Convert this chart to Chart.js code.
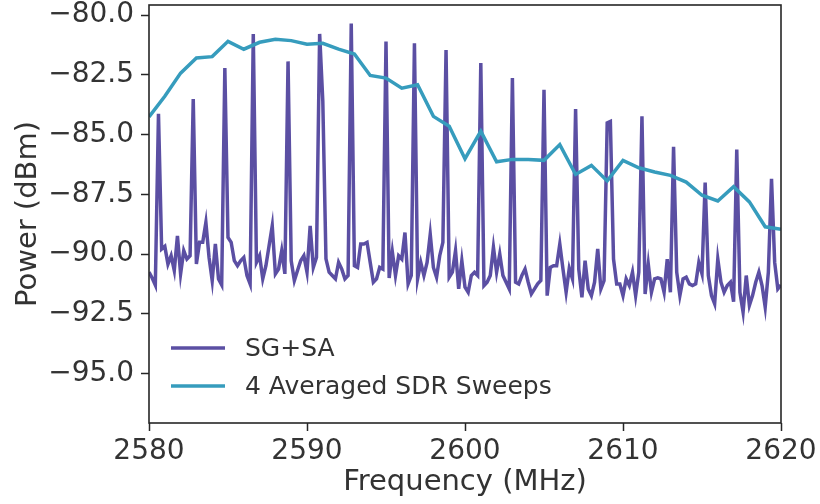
<!DOCTYPE html>
<html>
<head>
<meta charset="utf-8">
<script src="https://cdn.jsdelivr.net/npm/chart.js@4.4.0/dist/chart.umd.min.js"></script>
<style>
  html, body { margin: 0; padding: 0; background: #fff; }
  canvas { display: block; }
</style>
</head>
<body>
<canvas id="chart" width="820" height="504"></canvas>
<script>
// SG+SA trace, 0.2 MHz sample grid
const sgFreqMHz = [
  2580.0, 2580.2, 2580.4, 2580.6, 2580.8, 2581.0, 2581.2, 2581.4, 2581.6, 2581.8,
  2582.0, 2582.2, 2582.4, 2582.6, 2582.8, 2583.0, 2583.2, 2583.4, 2583.6, 2583.8,
  2584.0, 2584.2, 2584.4, 2584.6, 2584.8, 2585.0, 2585.2, 2585.4, 2585.6, 2585.8,
  2586.0, 2586.2, 2586.4, 2586.6, 2586.8, 2587.0, 2587.2, 2587.4, 2587.6, 2587.8,
  2588.0, 2588.2, 2588.4, 2588.6, 2588.8, 2589.0, 2589.2, 2589.4, 2589.6, 2589.8,
  2590.0, 2590.2, 2590.4, 2590.6, 2590.8, 2591.0, 2591.2, 2591.4, 2591.6, 2591.8,
  2592.0, 2592.2, 2592.4, 2592.6, 2592.8, 2593.0, 2593.2, 2593.4, 2593.6, 2593.8,
  2594.0, 2594.2, 2594.4, 2594.6, 2594.8, 2595.0, 2595.2, 2595.4, 2595.6, 2595.8,
  2596.0, 2596.2, 2596.4, 2596.6, 2596.8, 2597.0, 2597.2, 2597.4, 2597.6, 2597.8,
  2598.0, 2598.2, 2598.4, 2598.6, 2598.8, 2599.0, 2599.2, 2599.4, 2599.6, 2599.8,
  2600.0, 2600.2, 2600.4, 2600.6, 2600.8, 2601.0, 2601.2, 2601.4, 2601.6, 2601.8,
  2602.0, 2602.2, 2602.4, 2602.6, 2602.8, 2603.0, 2603.2, 2603.4, 2603.6, 2603.8,
  2604.0, 2604.2, 2604.4, 2604.6, 2604.8, 2605.0, 2605.2, 2605.4, 2605.6, 2605.8,
  2606.0, 2606.2, 2606.4, 2606.6, 2606.8, 2607.0, 2607.2, 2607.4, 2607.6, 2607.8,
  2608.0, 2608.2, 2608.4, 2608.6, 2608.8, 2609.0, 2609.2, 2609.4, 2609.6, 2609.8,
  2610.0, 2610.2, 2610.4, 2610.6, 2610.8, 2611.0, 2611.2, 2611.4, 2611.6, 2611.8,
  2612.0, 2612.2, 2612.4, 2612.6, 2612.8, 2613.0, 2613.2, 2613.4, 2613.6, 2613.8,
  2614.0, 2614.2, 2614.4, 2614.6, 2614.8, 2615.0, 2615.2, 2615.4, 2615.6, 2615.8,
  2616.0, 2616.2, 2616.4, 2616.6, 2616.8, 2617.0, 2617.2, 2617.4, 2617.6, 2617.8,
  2618.0, 2618.2, 2618.4, 2618.6, 2618.8, 2619.0, 2619.2, 2619.4, 2619.6, 2619.8,
  2620.0
];
const sgPowerDbm = [
  -90.76, -91.00, -91.30, -84.13, -89.79, -89.68, -90.42, -90.07, -90.69, -89.24,
  -90.83, -89.86, -90.21, -90.07, -83.51, -90.42, -89.51, -89.51, -88.68, -90.14,
  -91.11, -89.58, -91.04, -91.29, -82.22, -89.31, -89.51, -90.28, -90.49, -90.28,
  -90.14, -90.90, -91.25, -80.79, -90.35, -90.07, -91.04, -90.49, -89.65, -88.82,
  -90.83, -90.63, -89.86, -90.83, -81.94, -90.28, -91.11, -90.69, -90.28, -90.07,
  -90.76, -88.82, -90.56, -90.14, -80.79, -83.60, -90.20, -90.76, -90.90, -91.04,
  -90.35, -90.63, -91.04, -90.90, -80.35, -90.49, -90.56, -89.58, -89.58, -89.51,
  -90.35, -91.18, -91.04, -90.56, -90.63, -81.11, -91.00, -89.90, -90.90, -90.07,
  -90.21, -89.10, -91.25, -90.90, -81.18, -91.04, -90.35, -90.90, -90.35, -89.17,
  -90.56, -90.97, -90.07, -89.51, -81.46, -90.97, -90.76, -89.86, -91.46, -90.28,
  -91.39, -91.60, -90.90, -90.76, -90.90, -82.01, -91.32, -91.18, -90.90, -89.72,
  -90.76, -90.00, -90.90, -91.18, -91.46, -82.64, -91.18, -91.25, -90.90, -90.63,
  -91.18, -91.67, -91.46, -91.25, -91.11, -83.13, -91.74, -90.56, -90.49, -90.49,
  -89.58, -90.63, -91.60, -90.60, -91.04, -83.93, -90.63, -91.81, -90.28, -91.46,
  -91.74, -91.18, -89.79, -91.46, -91.11, -84.51, -84.45, -90.21, -91.25, -91.25,
  -91.74, -91.04, -91.32, -90.76, -91.74, -90.76, -84.24, -91.67, -90.42, -91.60,
  -91.04, -91.00, -91.04, -91.60, -90.21, -91.60, -85.51, -90.76, -91.74, -91.04,
  -90.97, -91.25, -91.32, -91.25, -90.35, -90.83, -87.01, -90.90, -91.74, -92.08,
  -90.21, -91.18, -91.60, -91.32, -91.18, -92.00, -85.63, -91.60, -92.43, -90.90,
  -92.15, -91.74, -91.18, -90.76, -91.32, -92.22, -90.76, -86.85, -90.35, -91.46,
  -91.30
];

// 4 averaged SDR sweeps, 1 MHz grid
const sdrFreqMHz = [
  2580, 2581, 2582, 2583, 2584, 2585, 2586, 2587, 2588, 2589,
  2590, 2591, 2592, 2593, 2594, 2595, 2596, 2597, 2598, 2599,
  2600, 2601, 2602, 2603, 2604, 2605, 2606, 2607, 2608, 2609,
  2610, 2611, 2612, 2613, 2614, 2615, 2616, 2617, 2618, 2619,
  2620
];
const sdrPowerDbm = [
  -84.26, -83.40, -82.43, -81.80, -81.74, -81.10, -81.43, -81.14, -81.01, -81.07,
  -81.22, -81.18, -81.43, -81.63, -82.53, -82.64, -83.06, -82.92, -84.24, -84.65,
  -86.01, -84.86, -86.14, -86.04, -86.04, -86.08, -85.42, -86.67, -86.29, -86.94,
  -86.08, -86.39, -86.57, -86.71, -86.99, -87.54, -87.78, -87.18, -87.82, -88.86,
  -88.96
];

const xTicks = [2580, 2590, 2600, 2610, 2620];
const yTicks = [-95.0, -92.5, -90.0, -87.5, -85.0, -82.5, -80.0];

const seriesLabels = ['SG+SA', '4 Averaged SDR Sweeps'];
const seriesColors = ['#5b4fa3', '#369cbd'];

const FONT = 'DejaVu Sans';
const INK = '#262626';
const TEXT = '#333333';

const toPoints = (xs, ys) => xs.map((x, i) => ({ x: x, y: ys[i] }));
const fmtY = v => (v < 0 ? '\u2212' : '') + Math.abs(v).toFixed(1);

// plot frame on all four sides
const framePlugin = {
  id: 'frame',
  afterDatasetsDraw(chart) {
    const { ctx, chartArea: a } = chart;
    ctx.save();
    ctx.strokeStyle = INK;
    ctx.lineWidth = 1.6;
    ctx.strokeRect(a.left, a.top, a.right - a.left, a.bottom - a.top);
    ctx.restore();
  }
};

// matplotlib-like legend inside the lower-left corner
const legendPlugin = {
  id: 'innerLegend',
  afterDatasetsDraw(chart) {
    const { ctx, chartArea: a } = chart;
    ctx.save();
    ctx.font = '25px "' + FONT + '"';
    ctx.textBaseline = 'middle';
    ctx.textAlign = 'left';
    chart.data.datasets.forEach((ds, i) => {
      const y = a.bottom - 75 + i * 38;
      ctx.strokeStyle = ds.borderColor;
      ctx.lineWidth = 3.5;
      ctx.beginPath();
      ctx.moveTo(a.left + 22, y);
      ctx.lineTo(a.left + 76, y);
      ctx.stroke();
      ctx.fillStyle = TEXT;
      ctx.fillText(ds.label, a.left + 96, y + 1);
    });
    ctx.restore();
  }
};

new Chart(document.getElementById('chart'), {
  type: 'line',
  data: {
    datasets: [
      {
        label: seriesLabels[0],
        data: toPoints(sgFreqMHz, sgPowerDbm),
        borderColor: seriesColors[0],
        borderWidth: 3.5,
        pointRadius: 0,
        tension: 0,
        order: 1
      },
      {
        label: seriesLabels[1],
        data: toPoints(sdrFreqMHz, sdrPowerDbm),
        borderColor: seriesColors[1],
        borderWidth: 3.5,
        pointRadius: 0,
        tension: 0,
        order: 0
      }
    ]
  },
  options: {
    responsive: false,
    animation: false,
    layout: { padding: { left: 0, right: 39, top: 5, bottom: 0 } },
    plugins: { legend: { display: false }, tooltip: { enabled: false } },
    scales: {
      x: {
        type: 'linear',
        min: 2580,
        max: 2620,
        afterBuildTicks: s => { s.ticks = xTicks.map(v => ({ value: v })); },
        afterFit: s => { s.height = 81; s.paddingLeft = 0; s.paddingRight = 0; },
        grid: { drawOnChartArea: false, drawTicks: true, tickLength: 8, tickColor: INK, tickWidth: 1.5 },
        border: { display: false },
        ticks: { color: TEXT, font: { family: FONT, size: 28 }, padding: 4, maxRotation: 0, callback: v => String(v) },
        title: { display: true, text: 'Frequency (MHz)', color: TEXT, font: { family: FONT, size: 29 }, padding: { top: 0, bottom: 4 } }
      },
      y: {
        min: -97.07,
        max: -79.58,
        afterBuildTicks: s => { s.ticks = yTicks.map(v => ({ value: v })); },
        afterFit: s => { s.width = 149; s.paddingTop = 0; s.paddingBottom = 0; },
        grid: { drawOnChartArea: false, drawTicks: true, tickLength: 8, tickColor: INK, tickWidth: 1.5 },
        border: { display: false },
        ticks: { color: TEXT, font: { family: FONT, size: 28 }, padding: 7, callback: v => fmtY(v) },
        title: { display: true, text: 'Power (dBm)', color: TEXT, font: { family: FONT, size: 29 }, padding: { top: 11, bottom: 0 } }
      }
    }
  },
  plugins: [framePlugin, legendPlugin]
});
</script>
</body>
</html>
